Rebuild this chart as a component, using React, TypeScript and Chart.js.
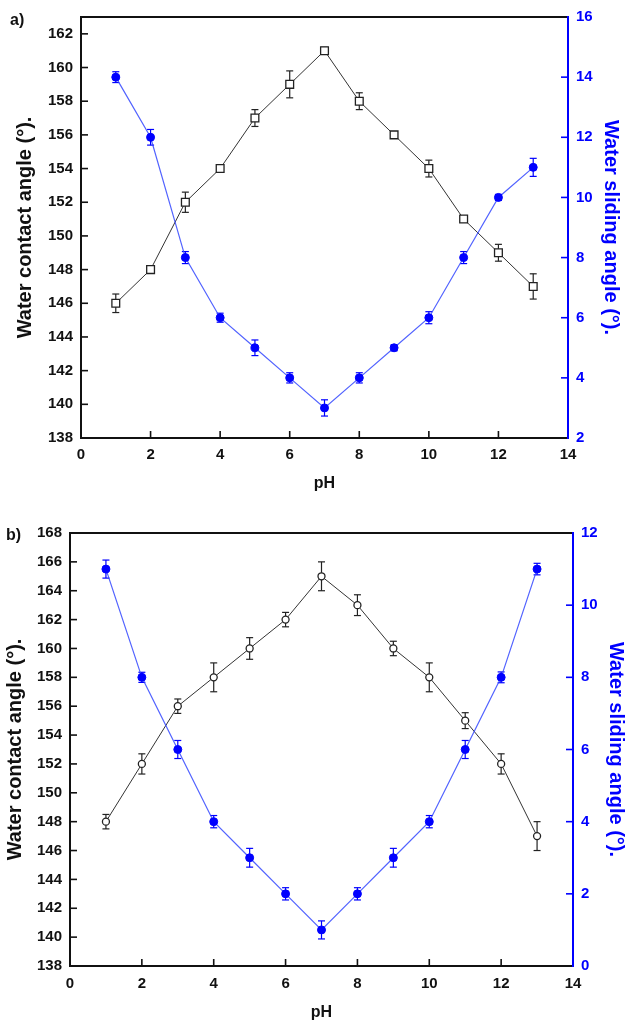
import React, { useEffect, useRef } from "react";
import { Chart, registerables } from "chart.js";

Chart.register(...registerables);

// ---------- data ----------
const PH = [1, 2, 3, 4, 5, 6, 7, 8, 9, 10, 11, 12, 13];
const X_TICKS = [0, 2, 4, 6, 8, 10, 12, 14];

// panel a)
const A_CONTACT = [146, 148, 152, 154, 157, 159, 161, 158, 156, 154, 151, 149, 147];
const A_CONTACT_ERR = [0.55, 0.2, 0.6, 0.2, 0.5, 0.8, 0.2, 0.5, 0.15, 0.5, 0.15, 0.5, 0.75];
const A_SLIDING = [14, 12, 8, 6, 5, 4, 3, 4, 5, 6, 8, 10, 11];
const A_SLIDING_ERR = [0.18, 0.26, 0.2, 0.15, 0.26, 0.17, 0.27, 0.17, 0.1, 0.2, 0.2, 0.1, 0.3];
const A_LEFT_TICKS = [138, 140, 142, 144, 146, 148, 150, 152, 154, 156, 158, 160, 162];
const A_RIGHT_TICKS = [2, 4, 6, 8, 10, 12, 14, 16];

// panel b)
const B_CONTACT = [148, 152, 156, 158, 160, 162, 165, 163, 160, 158, 155, 152, 147];
const B_CONTACT_ERR = [0.5, 0.7, 0.5, 1.0, 0.75, 0.5, 1.0, 0.72, 0.5, 1.0, 0.55, 0.7, 1.0];
const B_SLIDING = [11, 8, 6, 4, 3, 2, 1, 2, 3, 4, 6, 8, 11];
const B_SLIDING_ERR = [0.25, 0.14, 0.25, 0.17, 0.26, 0.17, 0.25, 0.17, 0.26, 0.17, 0.25, 0.15, 0.16];
const B_LEFT_TICKS = [138, 140, 142, 144, 146, 148, 150, 152, 154, 156, 158, 160, 162, 164, 166, 168];
const B_RIGHT_TICKS = [0, 2, 4, 6, 8, 10, 12];

const FONT = "'Liberation Sans', Arial, sans-serif";
const BLUE = "#0000ff";

const framePlugin = {
  id: "frameTicks",
  beforeDatasetsDraw(chart: any) {
    const { ctx, chartArea, scales } = chart;
    const { left, right, top, bottom } = chartArea;
    const tl = 7;
    ctx.save();
    ctx.lineCap = "butt";
    const seg = (x1: number, y1: number, x2: number, y2: number) => {
      ctx.beginPath();
      ctx.moveTo(x1, y1);
      ctx.lineTo(x2, y2);
      ctx.stroke();
    };
    ctx.lineWidth = 1.6;
    ctx.strokeStyle = "#111";
    scales.x.ticks.forEach((t: any) => {
      const px = scales.x.getPixelForValue(t.value);
      seg(px, bottom, px, bottom - tl);
    });
    scales.y.ticks.forEach((t: any) => {
      const py = scales.y.getPixelForValue(t.value);
      seg(left, py, left + tl, py);
    });
    ctx.strokeStyle = BLUE;
    scales.y2.ticks.forEach((t: any) => {
      const py = scales.y2.getPixelForValue(t.value);
      seg(right, py, right - tl, py);
    });
    ctx.lineWidth = 2;
    ctx.strokeStyle = "#111";
    seg(left - 1, top, right, top);
    seg(left - 1, bottom, right, bottom);
    seg(left, top, left, bottom);
    ctx.strokeStyle = BLUE;
    seg(right, top - 1, right, bottom + 1);
    ctx.restore();

    // error bars
    chart.data.datasets.forEach((ds: any, i: number) => {
      const meta = chart.getDatasetMeta(i);
      const ys = chart.scales[ds.yAxisID];
      if (!ds.errors) return;
      ctx.save();
      ctx.strokeStyle = ds.errColor;
      ctx.lineWidth = 1.2;
      meta.data.forEach((pt: any, j: number) => {
        const v = ds.data[j];
        const e = ds.errors[j];
        const y1 = ys.getPixelForValue(v + e);
        const y2 = ys.getPixelForValue(v - e);
        const x = pt.x;
        seg(x, y1, x, y2);
        seg(x - 3.5, y1, x + 3.5, y1);
        seg(x - 3.5, y2, x + 3.5, y2);
      });
      ctx.restore();
    });
  },
};

type PanelProps = {
  width: number;
  height: number;
  padTop: number;
  leftW: number;
  rightW: number;
  bottomH: number;
  contact: number[];
  contactErr: number[];
  sliding: number[];
  slidingErr: number[];
  leftTicks: number[];
  rightTicks: number[];
  leftMin: number;
  leftMax: number;
  rightMin: number;
  rightMax: number;
  marker: string;
  markerRadius: number;
  leftTitlePad: number;
  rightTitlePad: number;
  xTitlePad: number;
  xTickPad: number;
};

function Panel(p: PanelProps) {
  const ref = useRef<HTMLCanvasElement | null>(null);
  useEffect(() => {
    if (!ref.current) return;
    const tickFont = { family: FONT, size: 15, weight: "bold" as const };
    const titleFont = { family: FONT, size: 20, weight: "bold" as const };
    const chart = new Chart(ref.current, {
      type: "line",
      data: {
        labels: PH,
        datasets: [
          {
            label: "Water sliding angle",
            data: p.sliding,
            yAxisID: "y2",
            xAxisID: "x",
            borderColor: "rgba(50,70,255,0.85)",
            borderWidth: 1.2,
            pointStyle: "circle",
            pointRadius: 4,
            pointBackgroundColor: BLUE,
            pointBorderColor: BLUE,
            pointBorderWidth: 1,
            fill: false,
            tension: 0,
            errors: p.slidingErr,
            errColor: BLUE,
          } as any,
          {
            label: "Water contact angle",
            data: p.contact,
            yAxisID: "y",
            xAxisID: "x",
            borderColor: "#333",
            borderWidth: 1,
            pointStyle: p.marker,
            pointRadius: p.markerRadius,
            pointBackgroundColor: "#fff",
            pointBorderColor: "#222",
            pointBorderWidth: 1.3,
            fill: false,
            tension: 0,
            errors: p.contactErr,
            errColor: "#222",
          } as any,
        ],
      },
      options: {
        responsive: false,
        animation: false,
        devicePixelRatio: 1,
        layout: { padding: { top: p.padTop, left: 0, right: 0, bottom: 0 } },
        plugins: { legend: { display: false }, tooltip: { enabled: false } },
        scales: {
          x: {
            type: "linear",
            min: 0,
            max: 14,
            grid: { display: false, drawTicks: false },
            border: { display: false },
            afterBuildTicks: (s: any) => {
              s.ticks = X_TICKS.map((v) => ({ value: v }));
            },
            afterFit: (s: any) => {
              s.height = p.bottomH;
            },
            ticks: { font: tickFont, color: "#111", padding: p.xTickPad, maxRotation: 0, autoSkip: false },
            title: {
              display: true,
              text: "pH",
              font: { family: FONT, size: 16, weight: "bold" },
              color: "#111",
              padding: { top: 0, bottom: p.xTitlePad },
            },
          },
          y: {
            type: "linear",
            position: "left",
            min: p.leftMin,
            max: p.leftMax,
            grid: { display: false, drawTicks: false },
            border: { display: false },
            afterBuildTicks: (s: any) => {
              s.ticks = p.leftTicks.map((v) => ({ value: v }));
            },
            afterFit: (s: any) => {
              s.width = p.leftW;
            },
            ticks: { font: tickFont, color: "#111", padding: 8, autoSkip: false },
            title: {
              display: true,
              text: "Water contact angle (°).",
              font: titleFont,
              color: "#111",
              padding: { top: p.leftTitlePad, bottom: 0 },
            },
          },
          y2: {
            type: "linear",
            position: "right",
            min: p.rightMin,
            max: p.rightMax,
            grid: { display: false, drawTicks: false },
            border: { display: false },
            afterBuildTicks: (s: any) => {
              s.ticks = p.rightTicks.map((v) => ({ value: v }));
            },
            afterFit: (s: any) => {
              s.width = p.rightW;
            },
            ticks: { font: tickFont, color: BLUE, padding: 8, autoSkip: false },
            title: {
              display: true,
              text: "Water sliding angle (°).",
              font: titleFont,
              color: BLUE,
              padding: { top: p.rightTitlePad, bottom: 0 },
            },
          },
        },
      } as any,
      plugins: [framePlugin],
    });
    return () => chart.destroy();
  }, []);
  return <canvas ref={ref} width={p.width} height={p.height} style={{ display: "block" }} />;
}

export default function App() {
  const labelStyle: React.CSSProperties = {
    position: "absolute",
    fontFamily: FONT,
    fontWeight: "bold",
    fontSize: 16,
    color: "#111",
    lineHeight: "16px",
  };
  return (
    <div style={{ position: "absolute", left: 0, top: 0, width: 629, height: 1024, background: "#fff", overflow: "hidden" }}>
      <div style={{ position: "absolute", left: 0, top: 0 }}>
        <Panel
          width={629}
          height={500}
          padTop={11}
          leftW={81}
          rightW={61}
          bottomH={62}
          contact={A_CONTACT}
          contactErr={A_CONTACT_ERR}
          sliding={A_SLIDING}
          slidingErr={A_SLIDING_ERR}
          leftTicks={A_LEFT_TICKS}
          rightTicks={A_RIGHT_TICKS}
          leftMin={138}
          leftMax={163}
          rightMin={2}
          rightMax={16}
          marker="rect"
          markerRadius={5.5}
          leftTitlePad={13}
          rightTitlePad={6}
          xTitlePad={7}
          xTickPad={8}
        />
      </div>
      <div style={{ position: "absolute", left: 0, top: 500 }}>
        <Panel
          width={629}
          height={524}
          padTop={33}
          leftW={70}
          rightW={56}
          bottomH={58}
          contact={B_CONTACT}
          contactErr={B_CONTACT_ERR}
          sliding={B_SLIDING}
          slidingErr={B_SLIDING_ERR}
          leftTicks={B_LEFT_TICKS}
          rightTicks={B_RIGHT_TICKS}
          leftMin={138}
          leftMax={168}
          rightMin={0}
          rightMax={12}
          marker="circle"
          markerRadius={3.5}
          leftTitlePad={3}
          rightTitlePad={1}
          xTitlePad={2}
          xTickPad={9}
        />
      </div>
      <div style={{ ...labelStyle, left: 10, top: 12 }}>a)</div>
      <div style={{ ...labelStyle, left: 6, top: 527 }}>b)</div>
    </div>
  );
}
